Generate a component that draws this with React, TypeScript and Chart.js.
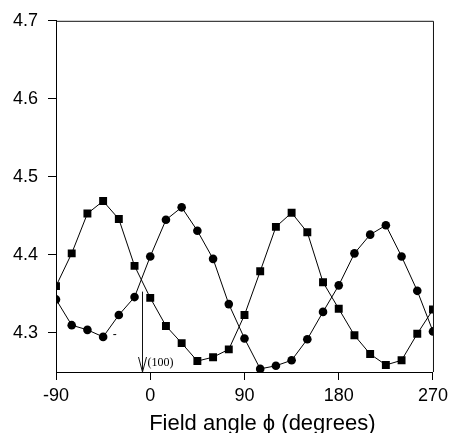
import React, { useEffect, useRef } from "react";
import { Chart, registerables } from "chart.js";

Chart.register(...registerables);

const angles = [-90, -75, -60, -45, -30, -15, 0, 15, 30, 45, 60, 75, 90, 105, 120, 135, 150, 165, 180, 195, 210, 225, 240, 255, 270];
const squareValues = [4.360, 4.402, 4.453, 4.469, 4.446, 4.386, 4.345, 4.309, 4.287, 4.264, 4.269, 4.279, 4.323, 4.379, 4.436, 4.454, 4.429, 4.365, 4.331, 4.297, 4.273, 4.259, 4.265, 4.299, 4.330];
const circleValues = [4.343, 4.310, 4.304, 4.295, 4.323, 4.346, 4.398, 4.445, 4.461, 4.431, 4.395, 4.337, 4.293, 4.254, 4.258, 4.265, 4.292, 4.327, 4.361, 4.402, 4.426, 4.438, 4.398, 4.354, 4.302];
const xTicks = [-90, 0, 90, 180, 270];
const yTicks = [4.3, 4.4, 4.5, 4.6, 4.7];
const xTitle = "Field angle \u03D5 (degrees)";
const xTitleCenterAngle = 107; // title sits slightly right of axis centre in the original
const arrowLabel = "(100)";
const arrowAngle = -8;
const arrowTop = 4.353;
const dashMark = { x: -34, y: 4.298, text: "-" };

const FONT = "'Liberation Sans', Arial, sans-serif";

const framePlugin = {
  id: "frame",
  afterDatasetsDraw(chart: any) {
    const { ctx, chartArea, scales } = chart;
    const xs = scales.x;
    const ys = scales.y;
    ctx.save();
    ctx.strokeStyle = "#111";
    ctx.lineWidth = 1;
    ctx.beginPath();
    ctx.moveTo(chartArea.left, chartArea.top + 0.5);
    ctx.lineTo(chartArea.right + 0.5, chartArea.top + 0.5);
    ctx.lineTo(chartArea.right + 0.5, chartArea.bottom);
    ctx.stroke();

    // arrow
    const ax = Math.round(xs.getPixelForValue(arrowAngle)) + 0.5;
    const ay0 = ys.getPixelForValue(arrowTop);
    const ay1 = chartArea.bottom;
    ctx.beginPath();
    ctx.moveTo(ax, ay0);
    ctx.lineTo(ax, ay1);
    ctx.moveTo(ax - 4, ay1 - 15);
    ctx.lineTo(ax, ay1);
    ctx.lineTo(ax + 4, ay1 - 15);
    ctx.stroke();

    ctx.fillStyle = "#000";
    ctx.font = "12px 'Liberation Serif', 'DejaVu Serif', serif";
    ctx.textBaseline = "middle";
    ctx.textAlign = "left";
    ctx.fillText(arrowLabel, ax + 5, ay1 - 9);

    ctx.font = "12px " + FONT;
    ctx.textAlign = "center";
    ctx.fillText(dashMark.text, xs.getPixelForValue(dashMark.x), ys.getPixelForValue(dashMark.y));

    // x-axis title
    ctx.font = "22px " + FONT;
    ctx.textAlign = "center";
    ctx.textBaseline = "alphabetic";
    ctx.fillText(xTitle, xs.getPixelForValue(xTitleCenterAngle), chart.height - 3);
    ctx.restore();
  },
};

export default function App() {
  const ref = useRef<HTMLCanvasElement | null>(null);
  useEffect(() => {
    if (!ref.current) return;
    const mk = (v: number[]) => angles.map((a, i) => ({ x: a, y: v[i] }));
    const chart = new Chart(ref.current, {
      type: "scatter",
      data: {
        datasets: [
          {
            label: "squares",
            data: mk(squareValues),
            showLine: true,
            borderColor: "#000",
            borderWidth: 1,
            backgroundColor: "#000",
            pointStyle: "rect",
            pointRadius: 5.6,
            pointHoverRadius: 5.6,
            pointBorderWidth: 0,
          },
          {
            label: "circles",
            data: mk(circleValues),
            showLine: true,
            borderColor: "#000",
            borderWidth: 1,
            backgroundColor: "#000",
            pointStyle: "circle",
            pointRadius: 4.3,
            pointHoverRadius: 4.3,
            pointBorderWidth: 0,
          },
        ],
      },
      options: {
        animation: false,
        responsive: false,
        layout: { padding: { top: 19, right: 17, left: 0, bottom: 0 } },
        plugins: { legend: { display: false }, tooltip: { enabled: false } },
        scales: {
          x: {
            type: "linear",
            min: -90,
            max: 270,
            afterBuildTicks: (s: any) => { s.ticks = xTicks.map((v) => ({ value: v })); },
            afterFit: (s: any) => { s.height = 61; },
            ticks: {
              color: "#000",
              font: { family: FONT, size: 18 },
              padding: 5,
              maxRotation: 0,
              callback: (v: any) => String(v),
            },
            grid: { drawOnChartArea: false, drawTicks: true, tickLength: 8, color: "#000", lineWidth: 1 },
            border: { display: true, color: "#000", width: 1 },
            title: { display: false, text: xTitle },
          },
          y: {
            type: "linear",
            min: 4.25,
            max: 4.7,
            afterBuildTicks: (s: any) => { s.ticks = yTicks.map((v) => ({ value: v })); },
            afterFit: (s: any) => { s.width = 56; },
            ticks: {
              color: "#000",
              font: { family: FONT, size: 18 },
              padding: 10,
              callback: (v: any) => Number(v).toFixed(1),
            },
            grid: { drawOnChartArea: false, drawTicks: true, tickLength: 8, color: "#000", lineWidth: 1 },
            border: { display: true, color: "#000", width: 1 },
          },
        },
      },
      plugins: [framePlugin],
    } as any);
    return () => chart.destroy();
  }, []);
  return (
    <div style={{ position: "fixed", left: 0, top: 0, width: 453, height: 433, background: "#fff" }}>
      <canvas ref={ref} width={453} height={433} />
    </div>
  );
}
